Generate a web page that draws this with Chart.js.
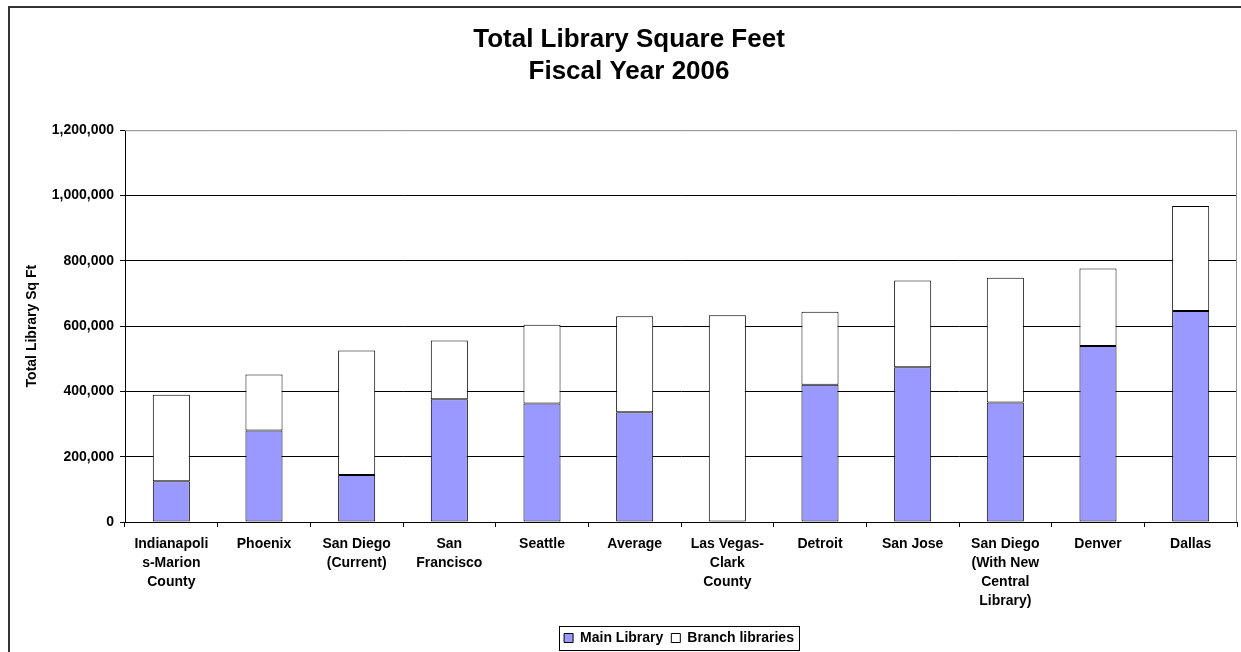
<!DOCTYPE html>
<html>
<head>
<meta charset="utf-8">
<script src="https://cdn.jsdelivr.net/npm/chart.js@4.4.1/dist/chart.umd.min.js"></script>
<style>
  html, body { margin: 0; padding: 0; background: #fff; }
  #wrap { width: 1241px; height: 652px; }
</style>
</head>
<body>
<div id="wrap"><canvas id="libChart" width="1241" height="652"></canvas></div>
<script>
const categories = [
  ['Indianapoli', 's-Marion', 'County'], 'Phoenix', ['San Diego', '(Current)'], ['San', 'Francisco'],
  'Seattle', 'Average', ['Las Vegas-', 'Clark', 'County'], 'Detroit', 'San Jose',
  ['San Diego', '(With New', 'Central', 'Library)'], 'Denver', 'Dallas'
];
const mainLibrary = [125000, 280000, 144000, 376000, 363000, 336000, 0, 420000, 474000, 366000, 539000, 646000];
const branchLibraries = [265000, 172000, 381000, 180000, 241000, 294000, 633000, 224000, 266000, 382000, 237000, 322000];
const yTickLabels = ['0', '200,000', '400,000', '600,000', '800,000', '1,000,000', '1,200,000'];
const yStep = 200000;
const yMax = 1200000;

const FONT = "'Liberation Sans', Arial, sans-serif";
Chart.defaults.font.family = FONT;
Chart.defaults.color = '#000';

// outer frame, plot border, legend box
const framePlugin = {
  id: 'frame',
  beforeDraw(chart){
    const ctx = chart.ctx;
    ctx.save();
    ctx.fillStyle = '#fff';
    ctx.fillRect(0, 0, chart.width, chart.height);
    ctx.strokeStyle = '#333';
    ctx.lineWidth = 2;
    ctx.strokeRect(9, 7, chart.width + 20, chart.height + 20);
    ctx.restore();
  },
  afterLayout(chart){
    const lg = chart.legend;
    if(!lg) return;
    lg.top += 3; lg.bottom += 3;
    lg.left += 50; lg.right += 50;
  },
  afterDatasetsDraw(chart){
    const {ctx, chartArea: a} = chart;
    ctx.save();
    ctx.strokeStyle = '#999';
    ctx.lineWidth = 1;
    ctx.beginPath();
    ctx.moveTo(a.left, a.top + 0.5);
    ctx.lineTo(a.right - 0.5, a.top + 0.5);
    ctx.lineTo(a.right - 0.5, a.bottom);
    ctx.stroke();
    ctx.restore();
  },
  afterDraw(chart){
    const boxes = chart.legend && chart.legend.legendHitBoxes;
    if(!boxes || !boxes.length) return;
    let l = Infinity, r = -Infinity, t = Infinity, b = -Infinity;
    boxes.forEach(h => {
      l = Math.min(l, h.left); r = Math.max(r, h.left + h.width);
      t = Math.min(t, h.top); b = Math.max(b, h.top + h.height);
    });
    const ctx = chart.ctx;
    ctx.save();
    ctx.strokeStyle = '#000';
    ctx.lineWidth = 1;
    ctx.strokeRect(Math.round(l - 5) + 0.5, Math.round(t - 5) + 0.5, Math.round(r - l + 10), Math.round(b - t + 10));
    ctx.restore();
  }
};

new Chart(document.getElementById('libChart').getContext('2d'), {
  type: 'bar',
  data: {
    labels: categories,
    datasets: [
      {
        label: 'Main Library',
        data: mainLibrary,
        backgroundColor: '#9999ff',
        borderColor: '#000',
        borderWidth: 1,
        borderSkipped: false,
        barPercentage: 0.4,
        categoryPercentage: 1
      },
      {
        label: 'Branch libraries',
        data: branchLibraries,
        backgroundColor: '#ffffff',
        borderColor: '#000',
        borderWidth: 1,
        borderSkipped: false,
        barPercentage: 0.4,
        categoryPercentage: 1
      }
    ]
  },
  options: {
    responsive: false,
    animation: false,
    devicePixelRatio: 1,
    layout: { padding: { left: 21, right: 4, top: 6, bottom: 0 } },
    plugins: {
      tooltip: { enabled: false },
      title: {
        display: true,
        text: ['Total Library Square Feet', 'Fiscal Year 2006'],
        color: '#000',
        font: { size: 26, weight: 'bold', lineHeight: 1.215 },
        padding: { top: 18, bottom: 43 }
      },
      legend: {
        position: 'bottom',
        labels: {
          color: '#000',
          boxWidth: 9,
          boxHeight: 9,
          padding: 8,
          font: { size: 14, weight: 'bold' }
        }
      }
    },
    scales: {
      x: {
        stacked: true,
        afterFit(scale){ scale.height = 98; },
        grid: { display: true, drawOnChartArea: false, drawTicks: true, tickLength: 5, color: '#000', offset: true },
        border: { color: '#000', width: 1 },
        ticks: {
          color: '#000',
          maxRotation: 0,
          autoSkip: false,
          padding: 8,
          font: { size: 14, weight: 'bold', lineHeight: 19 / 14 }
        }
      },
      y: {
        stacked: true,
        min: 0,
        max: yMax,
        afterFit(scale){ scale.width = 104; },
        grid: {
          color: c => (c.tick && c.tick.value === yMax) ? '#999' : '#000',
          tickColor: '#000',
          tickLength: 5,
          drawTicks: true
        },
        border: { color: '#000', width: 1 },
        ticks: {
          stepSize: yStep,
          color: '#000',
          padding: 6,
          font: { size: 14, weight: 'bold' },
          callback: (v, i) => yTickLabels[i]
        },
        title: {
          display: true,
          text: 'Total Library Sq Ft',
          color: '#000',
          font: { size: 14, weight: 'bold' },
          padding: { top: 3, bottom: 0 }
        }
      }
    }
  },
  plugins: [framePlugin]
});
</script>
</body>
</html>
